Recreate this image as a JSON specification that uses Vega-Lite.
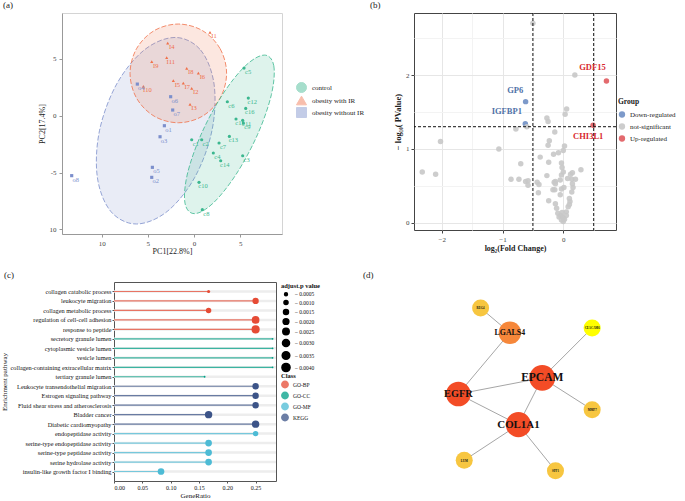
{
  "$schema": "https://vega.github.io/schema/vega-lite/v6.json",
  "padding": {"left": 0, "top": 0, "right": 0, "bottom": 0},
  "background": "white",
  "config": {
    "font": "Liberation Serif",
    "view": {"stroke": null},
    "title": {"fontWeight": "normal", "fontSize": 9, "anchor": "start", "frame": "group", "color": "#222"},
    "axis": {"labelFont": "Liberation Serif", "titleFont": "Liberation Serif", "grid": false},
    "legend": {"labelFont": "Liberation Serif", "titleFont": "Liberation Serif"}
  },
  "datasets": {
    "pca_points": [
      {"id": "I1", "group": "obesity with IR", "x": 1.73, "y": 7.32},
      {"id": "I4", "group": "obesity with IR", "x": -2.85, "y": 6.39},
      {"id": "I11", "group": "obesity with IR", "x": -2.96, "y": 5.10},
      {"id": "I9", "group": "obesity with IR", "x": -4.58, "y": 4.75},
      {"id": "I8", "group": "obesity with IR", "x": -0.79, "y": 4.16},
      {"id": "I6", "group": "obesity with IR", "x": 0.47, "y": 3.75},
      {"id": "I5", "group": "obesity with IR", "x": -2.24, "y": 3.08},
      {"id": "I7", "group": "obesity with IR", "x": -1.16, "y": 2.87},
      {"id": "I2", "group": "obesity with IR", "x": -0.25, "y": 2.40},
      {"id": "I10", "group": "obesity with IR", "x": -5.49, "y": 2.58},
      {"id": "I3", "group": "obesity with IR", "x": -0.43, "y": 1.00},
      {"id": "o4", "group": "obesity without IR", "x": -6.14, "y": 2.78},
      {"id": "o6", "group": "obesity without IR", "x": -2.53, "y": 1.67},
      {"id": "o7", "group": "obesity without IR", "x": -2.31, "y": 0.50},
      {"id": "o1", "group": "obesity without IR", "x": -3.21, "y": -0.88},
      {"id": "o3", "group": "obesity without IR", "x": -3.68, "y": -1.85},
      {"id": "o5", "group": "obesity without IR", "x": -4.51, "y": -4.54},
      {"id": "o2", "group": "obesity without IR", "x": -4.58, "y": -5.42},
      {"id": "o8", "group": "obesity without IR", "x": -13.25, "y": -5.27},
      {"id": "c5", "group": "control", "x": 5.42, "y": 4.19},
      {"id": "c6", "group": "control", "x": 3.61, "y": 1.23},
      {"id": "c12", "group": "control", "x": 5.88, "y": 1.55},
      {"id": "c16", "group": "control", "x": 5.60, "y": 0.64},
      {"id": "c15", "group": "control", "x": 4.55, "y": -0.29},
      {"id": "c11", "group": "control", "x": 5.27, "y": -0.41},
      {"id": "c9", "group": "control", "x": 5.34, "y": -0.64},
      {"id": "c13", "group": "control", "x": 3.83, "y": -1.82},
      {"id": "c1", "group": "control", "x": -0.25, "y": -2.11},
      {"id": "c2", "group": "control", "x": 0.83, "y": -2.11},
      {"id": "c7", "group": "control", "x": 2.71, "y": -2.40},
      {"id": "c4", "group": "control", "x": 2.09, "y": -3.28},
      {"id": "c3", "group": "control", "x": 5.27, "y": -3.52},
      {"id": "c14", "group": "control", "x": 2.89, "y": -3.96},
      {"id": "c10", "group": "control", "x": 0.54, "y": -5.86},
      {"id": "c8", "group": "control", "x": 0.90, "y": -8.26}
    ],
    "pca_ellipse": [
      {"group": "obesity without IR", "t": 0, "x": -2.06, "y": 6.88},
      {"group": "obesity without IR", "t": 1, "x": 0.71, "y": 5.78},
      {"group": "obesity without IR", "t": 2, "x": 2.17, "y": 2.78},
      {"group": "obesity without IR", "t": 3, "x": 1.94, "y": -1.32},
      {"group": "obesity without IR", "t": 4, "x": 0.08, "y": -5.42},
      {"group": "obesity without IR", "t": 5, "x": -2.91, "y": -8.42},
      {"group": "obesity without IR", "t": 6, "x": -6.24, "y": -9.52},
      {"group": "obesity without IR", "t": 7, "x": -9.01, "y": -8.42},
      {"group": "obesity without IR", "t": 8, "x": -10.47, "y": -5.42},
      {"group": "obesity without IR", "t": 9, "x": -10.24, "y": -1.32},
      {"group": "obesity without IR", "t": 10, "x": -8.38, "y": 2.78},
      {"group": "obesity without IR", "t": 11, "x": -5.39, "y": 5.78},
      {"group": "obesity with IR", "t": 0, "x": 3.53, "y": 3.72},
      {"group": "obesity with IR", "t": 1, "x": 2.83, "y": 5.89},
      {"group": "obesity with IR", "t": 2, "x": 0.92, "y": 7.48},
      {"group": "obesity with IR", "t": 3, "x": -1.70, "y": 8.06},
      {"group": "obesity with IR", "t": 4, "x": -4.32, "y": 7.48},
      {"group": "obesity with IR", "t": 5, "x": -6.23, "y": 5.89},
      {"group": "obesity with IR", "t": 6, "x": -6.93, "y": 3.72},
      {"group": "obesity with IR", "t": 7, "x": -6.23, "y": 1.55},
      {"group": "obesity with IR", "t": 8, "x": -4.32, "y": -0.04},
      {"group": "obesity with IR", "t": 9, "x": -1.70, "y": -0.62},
      {"group": "obesity with IR", "t": 10, "x": 0.92, "y": -0.04},
      {"group": "obesity with IR", "t": 11, "x": 2.83, "y": 1.55},
      {"group": "control", "t": 0, "x": 7.62, "y": 5.33},
      {"group": "control", "t": 1, "x": 8.64, "y": 4.40},
      {"group": "control", "t": 2, "x": 8.38, "y": 1.85},
      {"group": "control", "t": 3, "x": 6.89, "y": -1.64},
      {"group": "control", "t": 4, "x": 4.58, "y": -5.13},
      {"group": "control", "t": 5, "x": 2.08, "y": -7.68},
      {"group": "control", "t": 6, "x": 0.04, "y": -8.61},
      {"group": "control", "t": 7, "x": -0.98, "y": -7.68},
      {"group": "control", "t": 8, "x": -0.72, "y": -5.13},
      {"group": "control", "t": 9, "x": 0.77, "y": -1.64},
      {"group": "control", "t": 10, "x": 3.08, "y": 1.85},
      {"group": "control", "t": 11, "x": 5.58, "y": 4.40}
    ],
    "volcano": [
      {"gene": "GDF15", "group": "Up-regulated", "lfc": 0.71, "nlp": 1.92},
      {"gene": "CHI3L1", "group": "Up-regulated", "lfc": 0.49, "nlp": 1.32},
      {"gene": "GP6", "group": "Down-regulated", "lfc": -0.62, "nlp": 1.64},
      {"gene": "IGFBP1", "group": "Down-regulated", "lfc": -0.625, "nlp": 1.34},
      {"group": "not-significant", "lfc": -0.50, "nlp": 2.70},
      {"group": "not-significant", "lfc": 0.19, "nlp": 2.00},
      {"group": "not-significant", "lfc": 0.055, "nlp": 1.54},
      {"group": "not-significant", "lfc": 0.03, "nlp": 1.47},
      {"group": "not-significant", "lfc": -0.27, "nlp": 1.42},
      {"group": "not-significant", "lfc": -0.25, "nlp": 1.37},
      {"group": "not-significant", "lfc": -0.78, "nlp": 1.27},
      {"group": "not-significant", "lfc": -0.60, "nlp": 1.30},
      {"group": "not-significant", "lfc": -0.14, "nlp": 1.23},
      {"group": "not-significant", "lfc": -0.23, "nlp": 1.11},
      {"group": "not-significant", "lfc": -0.25, "nlp": 1.05},
      {"group": "not-significant", "lfc": -2.02, "nlp": 1.10},
      {"group": "not-significant", "lfc": -1.06, "nlp": 1.00},
      {"group": "not-significant", "lfc": 0.02, "nlp": 1.04},
      {"group": "not-significant", "lfc": 0.00, "nlp": 0.98},
      {"group": "not-significant", "lfc": -0.16, "nlp": 0.93},
      {"group": "not-significant", "lfc": -0.08, "nlp": 0.95},
      {"group": "not-significant", "lfc": -0.38, "nlp": 0.89},
      {"group": "not-significant", "lfc": -0.24, "nlp": 0.82},
      {"group": "not-significant", "lfc": -0.70, "nlp": 0.80},
      {"group": "not-significant", "lfc": -0.03, "nlp": 0.81},
      {"group": "not-significant", "lfc": -0.02, "nlp": 0.75},
      {"group": "not-significant", "lfc": -2.32, "nlp": 0.69},
      {"group": "not-significant", "lfc": -2.10, "nlp": 0.66},
      {"group": "not-significant", "lfc": 0.29, "nlp": 0.72},
      {"group": "not-significant", "lfc": -0.27, "nlp": 0.64},
      {"group": "not-significant", "lfc": -0.86, "nlp": 0.59},
      {"group": "not-significant", "lfc": -0.73, "nlp": 0.59},
      {"group": "not-significant", "lfc": -0.62, "nlp": 0.56},
      {"group": "not-significant", "lfc": -0.58, "nlp": 0.57},
      {"group": "not-significant", "lfc": -0.58, "nlp": 0.51},
      {"group": "not-significant", "lfc": -0.43, "nlp": 0.55},
      {"group": "not-significant", "lfc": -0.40, "nlp": 0.52},
      {"group": "not-significant", "lfc": -0.41, "nlp": 0.41},
      {"group": "not-significant", "lfc": -0.15, "nlp": 0.55},
      {"group": "not-significant", "lfc": -0.13, "nlp": 0.56},
      {"group": "not-significant", "lfc": -0.13, "nlp": 0.53},
      {"group": "not-significant", "lfc": -0.17, "nlp": 0.45},
      {"group": "not-significant", "lfc": -0.14, "nlp": 0.45},
      {"group": "not-significant", "lfc": -0.03, "nlp": 0.65},
      {"group": "not-significant", "lfc": 0.00, "nlp": 0.69},
      {"group": "not-significant", "lfc": -0.05, "nlp": 0.58},
      {"group": "not-significant", "lfc": -0.03, "nlp": 0.46},
      {"group": "not-significant", "lfc": -0.05, "nlp": 0.38},
      {"group": "not-significant", "lfc": 0.01, "nlp": 0.48},
      {"group": "not-significant", "lfc": -0.24, "nlp": 0.30},
      {"group": "not-significant", "lfc": -0.13, "nlp": 0.26},
      {"group": "not-significant", "lfc": -0.11, "nlp": 0.20},
      {"group": "not-significant", "lfc": -0.09, "nlp": 0.13},
      {"group": "not-significant", "lfc": -0.07, "nlp": 0.08},
      {"group": "not-significant", "lfc": -0.03, "nlp": 0.04},
      {"group": "not-significant", "lfc": -0.04, "nlp": 0.10},
      {"group": "not-significant", "lfc": 0.00, "nlp": 0.07},
      {"group": "not-significant", "lfc": 0.05, "nlp": 0.15},
      {"group": "not-significant", "lfc": 0.08, "nlp": 0.22},
      {"group": "not-significant", "lfc": 0.11, "nlp": 0.29},
      {"group": "not-significant", "lfc": 0.10, "nlp": 0.33},
      {"group": "not-significant", "lfc": 0.14, "nlp": 0.42},
      {"group": "not-significant", "lfc": 0.16, "nlp": 0.48},
      {"group": "not-significant", "lfc": 0.14, "nlp": 0.59},
      {"group": "not-significant", "lfc": 0.20, "nlp": 0.59},
      {"group": "not-significant", "lfc": 0.15, "nlp": 0.68},
      {"group": "not-significant", "lfc": 0.12, "nlp": 0.66},
      {"group": "not-significant", "lfc": 0.15, "nlp": 0.53},
      {"group": "not-significant", "lfc": 0.07, "nlp": 0.60},
      {"group": "not-significant", "lfc": 0.05, "nlp": 0.10},
      {"group": "not-significant", "lfc": -0.02, "nlp": 0.14},
      {"group": "not-significant", "lfc": 0.00, "nlp": 0.02},
      {"group": "not-significant", "lfc": 0.02, "nlp": 0.05},
      {"group": "not-significant", "lfc": 0.10, "nlp": 0.25}
    ],
    "volcano_labels": [
      {"gene": "GDF15", "group": "Up-regulated", "lfc": 0.48, "nlp": 2.11},
      {"gene": "GP6", "group": "Down-regulated", "lfc": -0.79, "nlp": 1.80},
      {"gene": "IGFBP1", "group": "Down-regulated", "lfc": -0.93, "nlp": 1.52},
      {"gene": "CHI3L1", "group": "Up-regulated", "lfc": 0.41, "nlp": 1.18}
    ],
    "enrich": [
      {"term": "collagen catabolic process", "class": "GO-BP", "ratio": 0.167, "padj": 0.0006, "lo": 0, "hi": 0.286},
      {"term": "leukocyte migration", "class": "GO-BP", "ratio": 0.25, "padj": 0.0024, "lo": 0, "hi": 0.286},
      {"term": "collagen metabolic process", "class": "GO-BP", "ratio": 0.167, "padj": 0.0018, "lo": 0, "hi": 0.286},
      {"term": "regulation of cell-cell adhesion", "class": "GO-BP", "ratio": 0.25, "padj": 0.0036, "lo": 0, "hi": 0.286},
      {"term": "response to peptide", "class": "GO-BP", "ratio": 0.25, "padj": 0.0040, "lo": 0, "hi": 0.286},
      {"term": "secretory granule lumen", "class": "GO-CC", "ratio": 0.28, "padj": 0.0002, "lo": 0, "hi": 0.286},
      {"term": "cytoplasmic vesicle lumen", "class": "GO-CC", "ratio": 0.28, "padj": 0.0002, "lo": 0, "hi": 0.286},
      {"term": "vesicle lumen", "class": "GO-CC", "ratio": 0.28, "padj": 0.0002, "lo": 0, "hi": 0.286},
      {"term": "collagen-containing extracellular matrix", "class": "GO-CC", "ratio": 0.28, "padj": 0.0002, "lo": 0, "hi": 0.286},
      {"term": "tertiary granule lumen", "class": "GO-CC", "ratio": 0.16, "padj": 0.0002, "lo": 0, "hi": 0.286},
      {"term": "Leukocyte transendothelial migration", "class": "KEGG", "ratio": 0.25, "padj": 0.0025, "lo": 0, "hi": 0.286},
      {"term": "Estrogen signaling pathway", "class": "KEGG", "ratio": 0.25, "padj": 0.0025, "lo": 0, "hi": 0.286},
      {"term": "Fluid shear stress and atherosclerosis", "class": "KEGG", "ratio": 0.25, "padj": 0.0025, "lo": 0, "hi": 0.286},
      {"term": "Bladder cancer", "class": "KEGG", "ratio": 0.167, "padj": 0.0033, "lo": 0, "hi": 0.286},
      {"term": "Diabetic cardiomyopathy", "class": "KEGG", "ratio": 0.25, "padj": 0.0033, "lo": 0, "hi": 0.286},
      {"term": "endopeptidase activity", "class": "GO-MF", "ratio": 0.25, "padj": 0.0018, "lo": 0, "hi": 0.286},
      {"term": "serine-type endopeptidase activity", "class": "GO-MF", "ratio": 0.167, "padj": 0.0027, "lo": 0, "hi": 0.286},
      {"term": "serine-type peptidase activity", "class": "GO-MF", "ratio": 0.167, "padj": 0.0027, "lo": 0, "hi": 0.286},
      {"term": "serine hydrolase activity", "class": "GO-MF", "ratio": 0.167, "padj": 0.0027, "lo": 0, "hi": 0.286},
      {"term": "insulin-like growth factor I binding", "class": "GO-MF", "ratio": 0.083, "padj": 0.0027, "lo": 0, "hi": 0.286}
    ],
    "nodes": [
      {"id": "EGFR", "x": 4.42, "y": 4.37, "score": 9, "level": "high"},
      {"id": "EPCAM", "x": 6.57, "y": 5.18, "score": 10, "level": "high"},
      {"id": "COL1A1", "x": 5.96, "y": 2.83, "score": 9.5, "level": "high"},
      {"id": "LGALS4", "x": 5.74, "y": 7.45, "score": 7, "level": "mid"},
      {"id": "REG4", "x": 4.99, "y": 8.69, "score": 3, "level": "low"},
      {"id": "CEACAM6", "x": 7.85, "y": 7.69, "score": 3, "level": "lowest"},
      {"id": "MMP7", "x": 7.85, "y": 3.58, "score": 3, "level": "low"},
      {"id": "LUM", "x": 4.57, "y": 1.04, "score": 3, "level": "low"},
      {"id": "SPP1", "x": 6.91, "y": 0.52, "score": 3, "level": "low"}
    ],
    "edges": [
      {"source": "REG4", "target": "LGALS4", "sx": 4.99, "sy": 8.69, "tx": 5.74, "ty": 7.45},
      {"source": "LGALS4", "target": "EGFR", "sx": 5.74, "sy": 7.45, "tx": 4.42, "ty": 4.37},
      {"source": "EGFR", "target": "EPCAM", "sx": 4.42, "sy": 4.37, "tx": 6.57, "ty": 5.18},
      {"source": "EGFR", "target": "COL1A1", "sx": 4.42, "sy": 4.37, "tx": 5.96, "ty": 2.83},
      {"source": "EPCAM", "target": "COL1A1", "sx": 6.57, "sy": 5.18, "tx": 5.96, "ty": 2.83},
      {"source": "EPCAM", "target": "CEACAM6", "sx": 6.57, "sy": 5.18, "tx": 7.85, "ty": 7.69},
      {"source": "EPCAM", "target": "MMP7", "sx": 6.57, "sy": 5.18, "tx": 7.85, "ty": 3.58},
      {"source": "COL1A1", "target": "LUM", "sx": 5.96, "sy": 2.83, "tx": 4.57, "ty": 1.04},
      {"source": "COL1A1", "target": "SPP1", "sx": 5.96, "sy": 2.83, "tx": 6.91, "ty": 0.52}
    ]
  },
  "spacing": 14,
  "resolve": {"scale": {"color": "independent", "fill": "independent", "size": "independent", "shape": "independent"}},
  "vconcat": [
    {
      "spacing": 132,
      "bounds": "flush",
      "resolve": {"scale": {"color": "independent", "fill": "independent", "size": "independent", "shape": "independent"}},
      "hconcat": [
        {
          "width": 220,
          "height": 221,
          "view": {"stroke": "#d4d4d4"},
          "title": {"text": "(a)", "dx": -59, "offset": 3},
          "layer": [
            {
              "data": {"name": "pca_ellipse"},
              "mark": {"type": "line", "interpolate": "cardinal-closed", "strokeWidth": 0.8, "strokeDash": [5, 2], "fillOpacity": 0.17},
              "encoding": {
                "x": {"field": "x", "type": "quantitative", "scale": {"domain": [-14.3, 9.53], "nice": false, "zero": false},
                  "axis": {"title": "PC1[22.8%]", "values": [-10, -5, 0, 5], "labelExpr": "format(abs(datum.value), 'd')", "domainColor": "#999", "tickColor": "#999", "tickSize": 3, "labelFontSize": 7, "labelColor": "#444", "labelPadding": 2, "titleFontSize": 8, "titleFontWeight": "normal", "titleColor": "#222", "titlePadding": 1}},
                "y": {"field": "y", "type": "quantitative", "scale": {"domain": [-10.4, 9.03], "nice": false, "zero": false},
                  "axis": {"title": "PC2[17.4%]", "values": [5, 0, -5, -10], "labelExpr": "datum.value == -10 ? '10' : datum.value == -5 ? '-5' : datum.label", "domainColor": "#999", "tickColor": "#999", "tickSize": 3, "labelFontSize": 7, "labelColor": "#444", "labelPadding": 3, "titleFontSize": 8, "titleFontWeight": "normal", "titleColor": "#222", "titlePadding": 3}},
                "order": {"field": "t", "type": "quantitative"},
                "color": {"field": "group", "type": "nominal", "scale": {"domain": ["control", "obesity with IR", "obesity without IR"], "range": ["#3BB78F", "#F0714A", "#7C8FCC"]}},
                "fill": {"field": "group", "type": "nominal", "scale": {"domain": ["control", "obesity with IR", "obesity without IR"], "range": ["#3BB78F", "#F0714A", "#7C8FCC"]}, "legend": null}
              }
            },
            {
              "data": {"name": "pca_points"},
              "mark": {"type": "point", "filled": true, "size": 10, "opacity": 1},
              "encoding": {
                "x": {"field": "x", "type": "quantitative"},
                "y": {"field": "y", "type": "quantitative"},
                "color": {"field": "group", "type": "nominal", "scale": {"domain": ["control", "obesity with IR", "obesity without IR"], "range": ["#3BB78F", "#F0714A", "#7C8FCC"]},
                  "legend": {"orient": "none", "legendX": 234, "legendY": 69, "title": null, "symbolType": "square", "symbolSize": 100, "symbolOpacity": 0.45, "symbolStrokeWidth": 1, "labelFontSize": 7, "labelColor": "#222", "rowPadding": -3, "labelOffset": 5}},
                "shape": {"field": "group", "type": "nominal", "scale": {"domain": ["control", "obesity with IR", "obesity without IR"], "range": ["circle", "triangle-up", "square"]}, "legend": null}
              }
            },
            {
              "data": {"name": "pca_points"},
              "mark": {"type": "text", "fontSize": 6.5, "align": "center", "baseline": "middle", "dx": 4, "dy": 4},
              "encoding": {
                "x": {"field": "x", "type": "quantitative"},
                "y": {"field": "y", "type": "quantitative"},
                "text": {"field": "id"},
                "color": {"field": "group", "type": "nominal"}
              }
            }
          ]
        },
        {
          "width": 202,
          "height": 217,
          "view": {"stroke": "#444", "strokeWidth": 1},
          "title": {"text": "(b)", "dx": -44, "offset": 3},
          "resolve": {"scale": {"color": "independent"}},
          "layer": [
            {
              "data": {"name": "volcano"},
              "mark": {"type": "circle", "size": 30, "opacity": 0.9},
              "encoding": {
                "x": {"field": "lfc", "type": "quantitative", "scale": {"domain": [-2.456, 0.867], "nice": false, "zero": false},
                  "axis": {"title": "log₂(Fold Change)", "grid": true, "values": [-2.5, -2, -1.5, -1, -0.5, 0, 0.5], "labelExpr": "datum.value % 1 === 0 ? format(datum.value, 'd') : ''", "tickOpacity": {"condition": {"test": "datum.value % 1 === 0", "value": 1}, "value": 0}, "gridColor": {"condition": {"test": "datum.value % 1 === 0", "value": "#e6e6e6"}, "value": "#f3f3f3"}, "domain": false, "tickColor": "#444", "tickSize": 3, "labelFontSize": 7, "labelColor": "#444", "labelPadding": 2, "titleFontSize": 8, "titleFontWeight": "bold", "titleColor": "#222", "titlePadding": 2}},
                "y": {"field": "nlp", "type": "quantitative", "scale": {"domain": [-0.095, 2.838], "nice": false, "zero": false},
                  "axis": {"title": "− log₁₀( PValue)", "grid": true, "values": [0, 0.5, 1, 1.5, 2, 2.5], "labelExpr": "datum.value % 1 === 0 ? format(datum.value, 'd') : ''", "tickOpacity": {"condition": {"test": "datum.value % 1 === 0", "value": 1}, "value": 0}, "gridColor": {"condition": {"test": "datum.value % 1 === 0", "value": "#e6e6e6"}, "value": "#f3f3f3"}, "domain": false, "tickColor": "#444", "tickSize": 3, "labelFontSize": 7, "labelColor": "#444", "labelPadding": 2, "titleFontSize": 8.5, "titleFontWeight": "bold", "titleColor": "#222", "titlePadding": 3}},
                "color": {"field": "group", "type": "nominal", "scale": {"domain": ["Down-regulated", "not-significant", "Up-regulated"], "range": ["#6F8FC4", "#C8C8C8", "#E05A5E"]},
                  "legend": {"orient": "none", "legendX": 204, "legendY": 85, "title": "Group", "titleFontSize": 7.5, "titleFontWeight": "bold", "titleColor": "#222", "labelFontSize": 7, "labelColor": "#222", "symbolSize": 40, "rowPadding": 4, "symbolOpacity": 0.9}}
              }
            },
            {
              "data": {"values": [{"lfc": -0.5}, {"lfc": 0.5}]},
              "mark": {"type": "rule", "color": "#111", "strokeWidth": 1, "strokeDash": [3, 2]},
              "encoding": {"x": {"field": "lfc", "type": "quantitative"}}
            },
            {
              "data": {"values": [{"nlp": 1.301}]},
              "mark": {"type": "rule", "color": "#111", "strokeWidth": 1, "strokeDash": [3, 2]},
              "encoding": {"y": {"field": "nlp", "type": "quantitative"}}
            },
            {
              "data": {"name": "volcano_labels"},
              "mark": {"type": "text", "fontSize": 8.5, "fontWeight": "bold", "align": "center", "baseline": "middle"},
              "encoding": {
                "x": {"field": "lfc", "type": "quantitative"},
                "y": {"field": "nlp", "type": "quantitative"},
                "text": {"field": "gene"},
                "color": {"field": "group", "type": "nominal", "scale": {"domain": ["Down-regulated", "Up-regulated"], "range": ["#4F72A8", "#D8282E"]}, "legend": null}
              }
            }
          ]
        }
      ]
    },
    {
      "spacing": 10,
      "bounds": "flush",
      "resolve": {"scale": {"color": "independent", "fill": "independent", "size": "independent", "shape": "independent"}},
      "hconcat": [
        {"width": 42, "height": 199, "data": {"values": [{"a": 1}]}, "mark": {"type": "point", "opacity": 0}, "encoding": {}},
        {
          "width": 162,
          "height": 199,
          "view": {"stroke": "#555", "strokeWidth": 1},
          "title": {"text": "(c)", "dx": -110, "offset": 2},
          "data": {"name": "enrich"},
          "layer": [
            {
              "mark": {"type": "rule", "color": "#ededed", "strokeWidth": 2.5},
              "encoding": {
                "y": {"field": "term", "type": "nominal", "sort": null, "scale": {"type": "point", "padding": 1.04},
                  "axis": {"title": "Enrichment pathway", "labelFontSize": 6.3, "labelColor": "#111", "labelLimit": 200, "tickSize": 2, "tickColor": "#555", "domain": false, "labelPadding": 1, "titleFontSize": 7, "titleFontWeight": "normal", "titleColor": "#111", "titlePadding": 2}},
                "x": {"field": "lo", "type": "quantitative", "scale": {"domain": [0, 0.286], "nice": false, "zero": false},
                  "axis": {"title": "GeneRatio", "values": [0, 0.05, 0.1, 0.15, 0.2, 0.25], "format": ".2f", "labelOverlap": false, "labelFontSize": 6, "labelColor": "#111", "tickSize": 2, "tickColor": "#555", "domain": false, "labelPadding": 1, "titleFontSize": 7, "titleFontWeight": "normal", "titleColor": "#111", "titlePadding": 1}},
                "x2": {"field": "hi"}
              }
            },
            {
              "mark": {"type": "rule", "strokeWidth": 1.2, "opacity": 0.75},
              "encoding": {
                "y": {"field": "term", "type": "nominal", "sort": null},
                "x": {"field": "lo", "type": "quantitative",
                  "axis": {"title": "GeneRatio", "values": [0, 0.05, 0.1, 0.15, 0.2, 0.25], "format": ".2f", "labelOverlap": false, "labelFontSize": 6, "labelColor": "#111", "tickSize": 2, "tickColor": "#555", "domain": false, "labelPadding": 1, "titleFontSize": 7, "titleFontWeight": "normal", "titleColor": "#111", "titlePadding": 1}},
                "x2": {"field": "ratio"},
                "color": {"field": "class", "type": "nominal", "scale": {"domain": ["GO-BP", "GO-CC", "GO-MF", "KEGG"], "range": ["#E64B35", "#00A087", "#4DBBD5", "#3C5488"]}}
              }
            },
            {
              "mark": {"type": "circle", "opacity": 1},
              "encoding": {
                "y": {"field": "term", "type": "nominal", "sort": null},
                "x": {"field": "ratio", "type": "quantitative",
                  "axis": {"title": "GeneRatio", "values": [0, 0.05, 0.1, 0.15, 0.2, 0.25], "format": ".2f", "labelOverlap": false, "labelFontSize": 6, "labelColor": "#111", "tickSize": 2, "tickColor": "#555", "domain": false, "labelPadding": 1, "titleFontSize": 7, "titleFontWeight": "normal", "titleColor": "#111", "titlePadding": 1}},
                "size": {"field": "padj", "type": "quantitative", "scale": {"domain": [0, 0.004], "range": [0, 66]},
                  "legend": {"orient": "none", "legendX": 167, "legendY": 1, "title": "adjust.p value", "values": [0.0005, 0.001, 0.0015, 0.002, 0.0025, 0.003, 0.0035, 0.004], "labelExpr": "'– ' + format(datum.value, '.4f')", "symbolFillColor": "#000", "symbolStrokeColor": "#000", "symbolOpacity": 1, "titleFontSize": 6.5, "titleFontWeight": "bold", "titleColor": "#111", "labelFontSize": 5.5, "labelColor": "#111", "rowPadding": -3, "titlePadding": 2}},
                "color": {"field": "class", "type": "nominal",
                  "legend": {"orient": "none", "legendX": 167, "legendY": 91, "title": "Class", "symbolType": "circle", "symbolSize": 40, "symbolOpacity": 1, "titleFontSize": 6.5, "titleFontWeight": "bold", "titleColor": "#111", "labelFontSize": 5.5, "labelColor": "#111", "rowPadding": -3, "titlePadding": 1}}
              }
            }
          ]
        },
        {
          "width": 390,
          "height": 199,
          "title": {"text": "(d)", "dx": 77, "offset": 2},
          "resolve": {"scale": {"size": "independent"}},
          "layer": [
            {
              "data": {"name": "edges"},
              "mark": {"type": "rule", "color": "#a6a6a6", "strokeWidth": 1},
              "encoding": {
                "x": {"field": "sx", "type": "quantitative", "scale": {"domain": [0, 10], "nice": false, "zero": false}, "axis": null},
                "y": {"field": "sy", "type": "quantitative", "scale": {"domain": [0, 10], "nice": false, "zero": false}, "axis": null},
                "x2": {"field": "tx"},
                "y2": {"field": "ty"}
              }
            },
            {
              "data": {"name": "nodes"},
              "mark": {"type": "circle", "opacity": 1},
              "encoding": {
                "x": {"field": "x", "type": "quantitative", "axis": null},
                "y": {"field": "y", "type": "quantitative", "axis": null},
                "size": {"field": "score", "type": "quantitative", "scale": {"domain": [3, 10], "range": [290, 660]}, "legend": null},
                "color": {"field": "level", "type": "nominal", "scale": {"domain": ["high", "mid", "low", "lowest"], "range": ["#F34C26", "#F6873A", "#F7C640", "#FFFF00"]}, "legend": null}
              }
            },
            {
              "data": {"name": "nodes"},
              "mark": {"type": "text", "fontWeight": "bold", "color": "#111", "align": "center", "baseline": "middle"},
              "encoding": {
                "x": {"field": "x", "type": "quantitative", "axis": null},
                "y": {"field": "y", "type": "quantitative", "axis": null},
                "text": {"field": "id"},
                "size": {"field": "score", "type": "quantitative", "scale": {"domain": [3, 10], "range": [3, 11.5]}, "legend": null}
              }
            }
          ]
        }
      ]
    }
  ]
}
